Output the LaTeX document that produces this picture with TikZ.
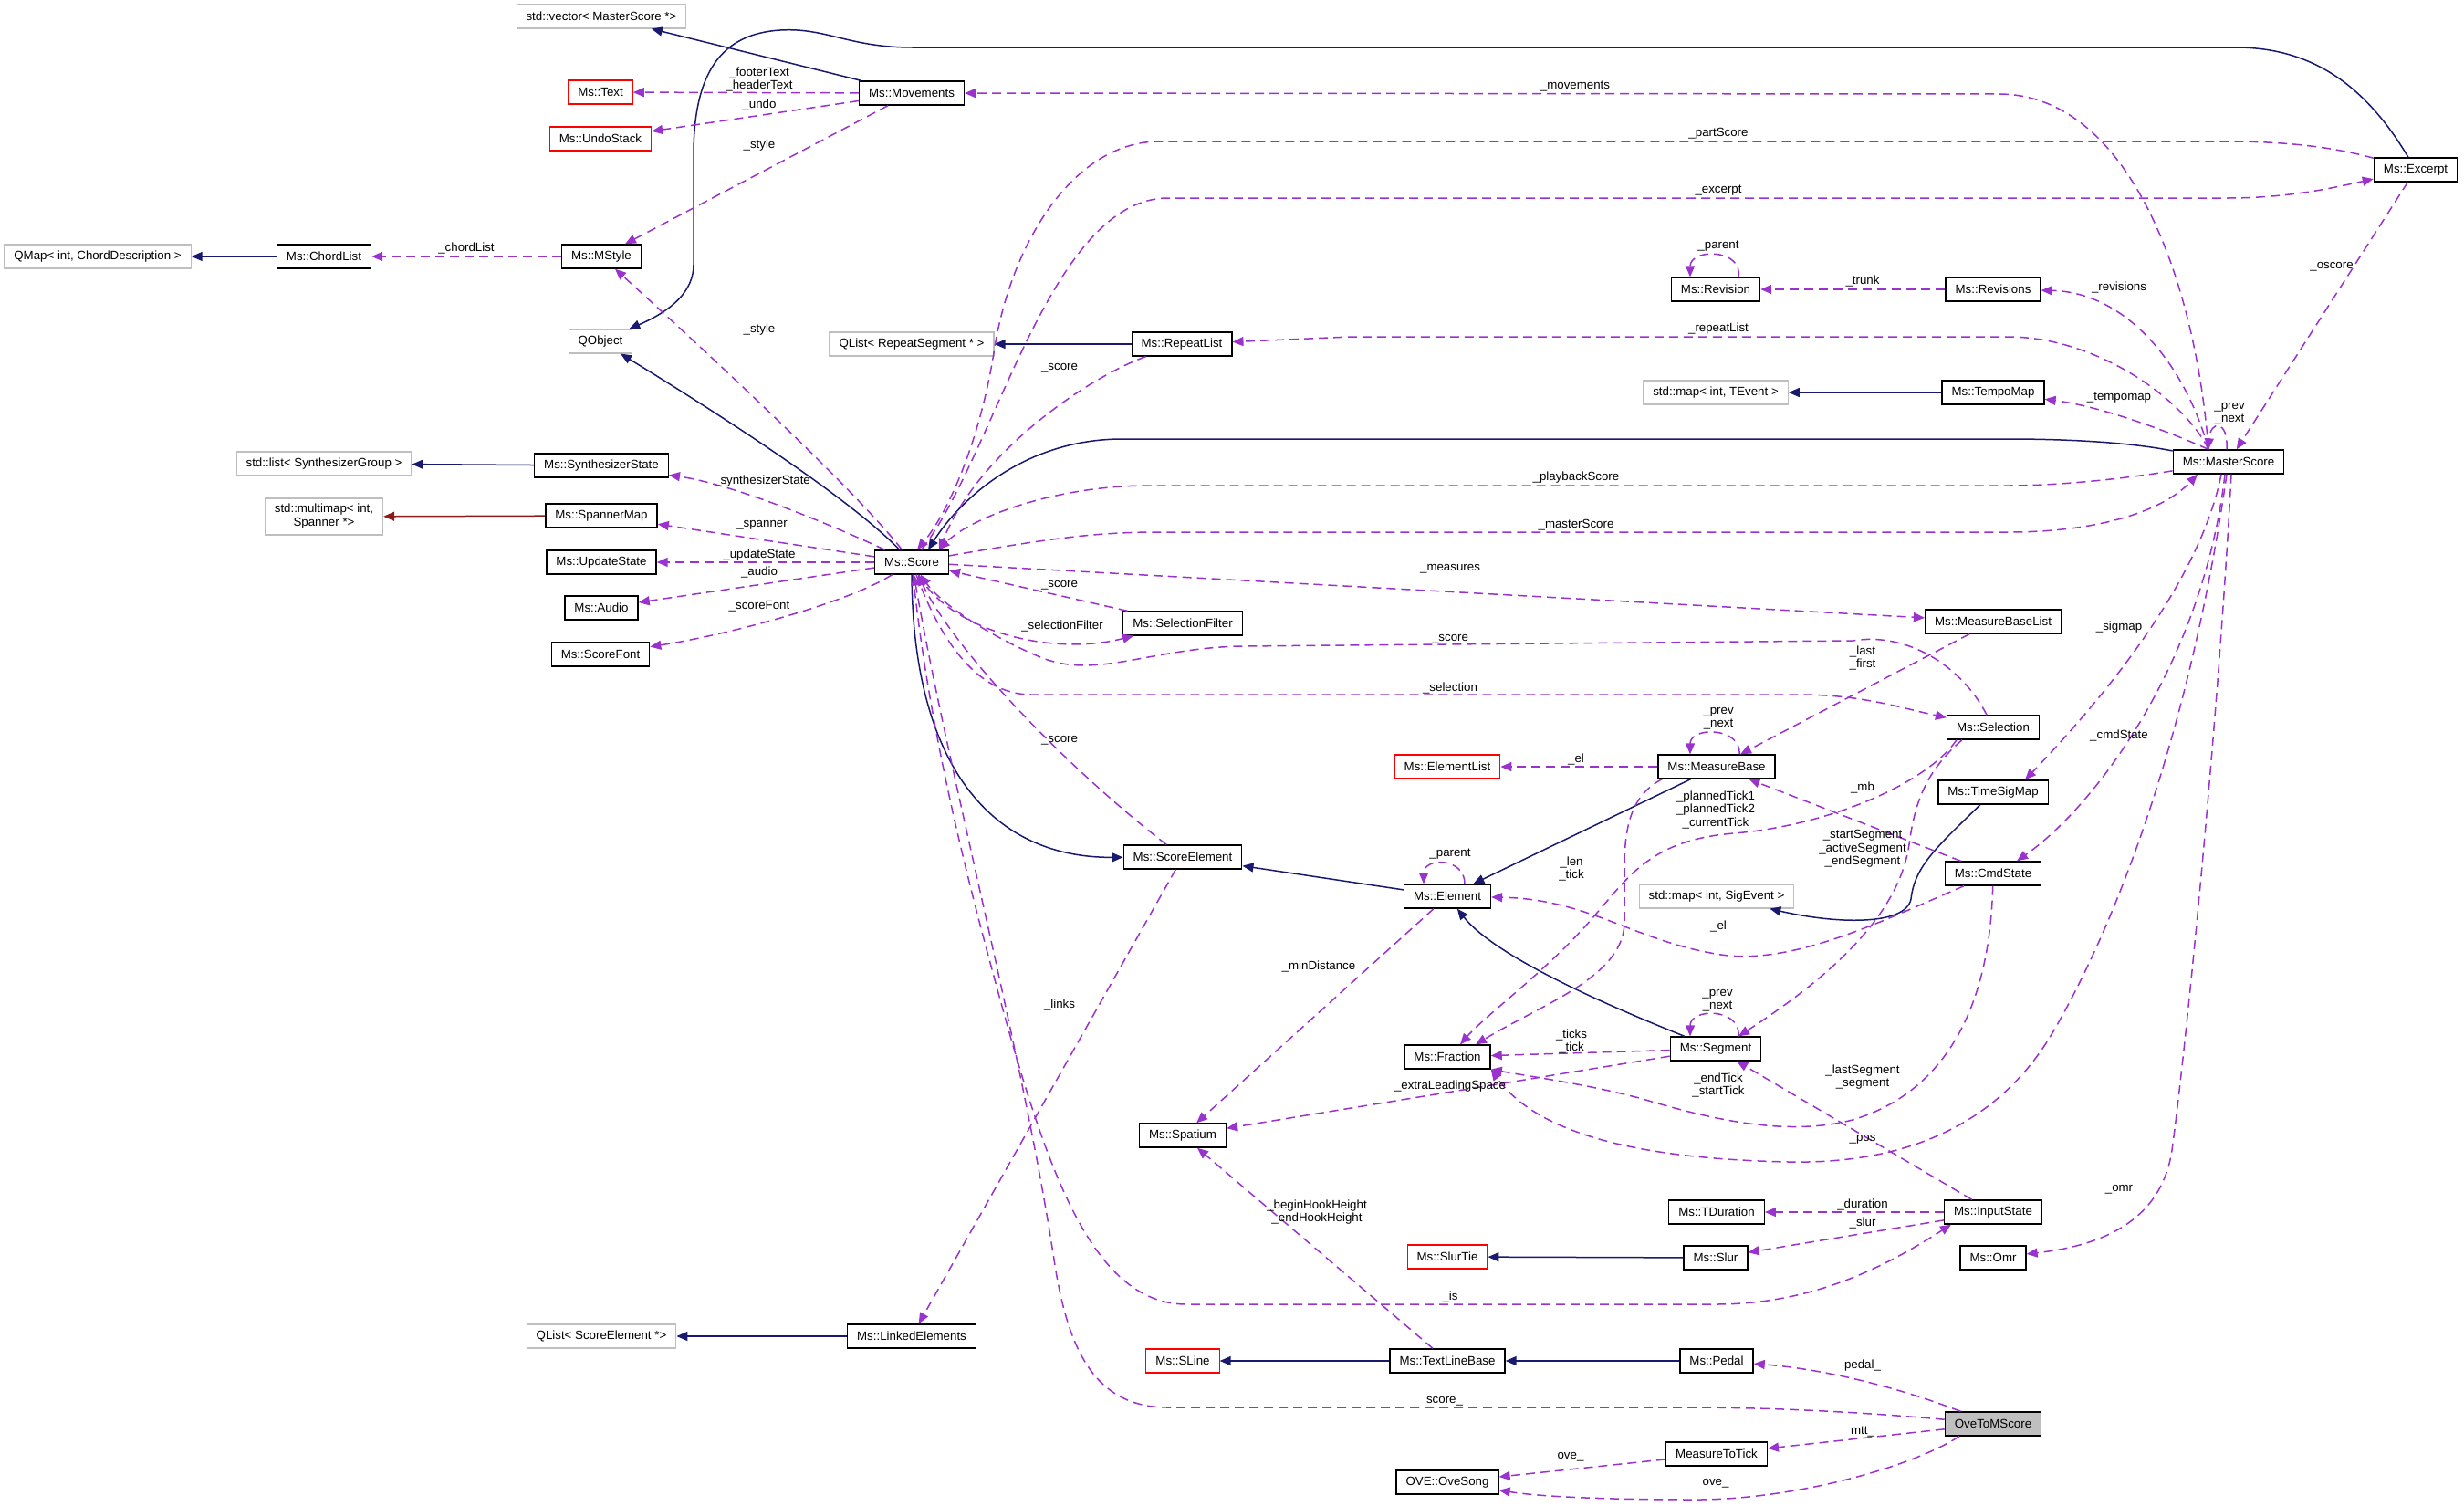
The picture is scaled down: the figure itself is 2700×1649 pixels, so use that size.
\documentclass[tikz,border=0pt]{standalone}
\usepackage{fontspec}
\setmainfont{Liberation Sans}
\usetikzlibrary{arrows.meta}
\definecolor{navy}{RGB}{25,25,112}
\definecolor{purp}{RGB}{154,50,205}
\definecolor{dred}{RGB}{139,26,26}
\definecolor{gbord}{RGB}{191,191,191}
\newcommand\dfont{\fontsize{13.3pt}{14.5pt}\selectfont}
\tikzset{
 cls/.style={draw=black, line width=1.3pt, fill=white, inner xsep=10.5pt, inner ysep=2pt, minimum height=26pt, font=\dfont},
 extc/.style={cls, draw=gbord, line width=1.1pt},
 redc/.style={cls, draw=red, line width=1.1pt},
 inh/.style={draw=navy, line width=1.5pt, -{Triangle[length=12pt,width=10pt]}},
 inhred/.style={inh, draw=dred},
 usage/.style={draw=purp, line width=1.5pt, dash pattern=on 10pt off 6pt, -{Triangle[length=12pt,width=10pt]}},
 lbl/.style={font=\dfont, align=center, inner sep=0pt},
}
\begin{document}
\begin{tikzpicture}[x=1pt,y=-1pt]
\fill[white] (0,0) rectangle (2700,1649);
\useasboundingbox (0,0) rectangle (2700,1649);
% nodes
\node[extc] (vec) at (659,18) {std::vector< MasterScore *>};
\node[redc] (text) at (658,101) {Ms::Text};
\node[redc] (undo) at (658,152) {Ms::UndoStack};
\node[cls] (mstyle) at (659,281) {Ms::MStyle};
\node[cls] (chord) at (355,281) {Ms::ChordList};
\node[extc] (qmap) at (107,281) {QMap< int, ChordDescription >};
\node[extc] (qobj) at (658,374) {QObject};
\node[extc] (slist) at (355,508) {std::list< SynthesizerGroup >};
\node[cls] (synth) at (659,510) {Ms::SynthesizerState};
\node[extc, align=center, font=\fontsize{13.3pt}{15pt}\selectfont, minimum height=40pt] (mmap) at (355,566) {std::multimap< int,\\Spanner *>};
\node[cls] (spanmap) at (659,565) {Ms::SpannerMap};
\node[cls] (upd) at (659,616) {Ms::UpdateState};
\node[cls] (audio) at (659,666) {Ms::Audio};
\node[cls] (sfont) at (658,717) {Ms::ScoreFont};
\node[cls] (mov) at (999,102) {Ms::Movements};
\node[extc] (qlrs) at (999,377) {QList< RepeatSegment * >};
\node[cls] (rl) at (1295,377) {Ms::RepeatList};
\node[cls] (exc) at (2647,186) {Ms::Excerpt};
\node[cls] (rev) at (1880,317) {Ms::Revision};
\node[cls] (revs) at (2184,317) {Ms::Revisions};
\node[extc] (tmap) at (1880,430) {std::map< int, TEvent >};
\node[cls] (tempo) at (2184,430) {Ms::TempoMap};
\node[cls] (ms) at (2442,506) {Ms::MasterScore};
\node[cls] (score) at (999,616) {Ms::Score};
\node[cls] (sf) at (1296,683) {Ms::SelectionFilter};
\node[redc] (elist) at (1586,840) {Ms::ElementList};
\node[cls] (se) at (1296,939) {Ms::ScoreElement};
\node[cls] (elem) at (1586,982) {Ms::Element};
\node[cls] (mbl) at (2184,681) {Ms::MeasureBaseList};
\node[cls] (sel) at (2184,797) {Ms::Selection};
\node[cls] (mb) at (1881,840) {Ms::MeasureBase};
\node[cls] (tsm) at (2184,868) {Ms::TimeSigMap};
\node[extc] (smap) at (1881,982) {std::map< int, SigEvent >};
\node[cls] (cmd) at (2184,957) {Ms::CmdState};
\node[cls] (frac) at (1586,1158) {Ms::Fraction};
\node[cls] (spat) at (1296,1244) {Ms::Spatium};
\node[redc] (slurtie) at (1586,1377) {Ms::SlurTie};
\node[cls] (le) at (999,1464) {Ms::LinkedElements};
\node[redc] (sline) at (1296,1491) {Ms::SLine};
\node[cls] (tlb) at (1586,1491) {Ms::TextLineBase};
\node[cls] (oves) at (1586,1624) {OVE::OveSong};
\node[extc] (qlse) at (659,1464) {QList< ScoreElement *>};
\node[cls] (seg) at (1880,1149) {Ms::Segment};
\node[cls] (tdur) at (1881,1328) {Ms::TDuration};
\node[cls] (is) at (2184,1328) {Ms::InputState};
\node[cls] (slur) at (1880,1378) {Ms::Slur};
\node[cls] (omr) at (2184,1378) {Ms::Omr};
\node[cls] (pedal) at (1881,1491) {Ms::Pedal};
\node[cls, fill=gbord] (o2m) at (2184,1560) {OveToMScore};
\node[cls] (mtt) at (1881,1593) {MeasureToTick};
% inheritance
\draw[inh] (mov) -- (vec);
\draw[inh] (exc) .. controls (2590,90) and (2530,52) .. (2450,52) -- (1000,52) .. controls (930,52) and (905,30) .. (855,33) .. controls (790,37) and (760,80) .. (760,170) -- (760,290) .. controls (760,325) and (725,345) .. (qobj);
\draw[inh] (score) .. controls (930,545) and (790,455) .. (qobj);
\draw[inh] (ms) .. controls (2330,484) and (2260,481) .. (2200,481) -- (1230,481) .. controls (1120,481) and (1050,550) .. ([xshift=18pt]score.north);
\draw[inh] (synth) -- (slist);
\draw[inhred] (spanmap) -- (mmap);
\draw[inh] (chord) -- (qmap);
\draw[inh] (rl) -- (qlrs);
\draw[inh] (tempo) -- (tmap);
\draw[inh] (elem) -- (se);
\draw[inh] (score) .. controls (1000,830) and (1080,940) .. (se);
\draw[inh] (mb) -- (elem);
\draw[inh] (seg) .. controls (1770,1105) and (1640,1050) .. (elem);
\draw[inh] (tsm) .. controls (2120,930) and (2098,950) .. (2094,985) .. controls (2088,1015) and (2010,1012) .. (smap);
\draw[inh] (le) -- (qlse);
\draw[inh] (tlb) -- (sline);
\draw[inh] (pedal) -- (tlb);
\draw[inh] (slur) -- (slurtie);
% usage
\draw[usage] (mov) -- (text);
\draw[usage] (mov) -- (undo);
\draw[usage] (mov) -- (mstyle);
\draw[usage] (mstyle) -- (chord);
\draw[usage] (score) .. controls (940,540) and (790,400) .. (mstyle);
\draw[usage] (score) .. controls (900,570) and (800,530) .. (synth);
\draw[usage] (score) -- (spanmap);
\draw[usage] (score) -- (upd);
\draw[usage] (score) -- (audio);
\draw[usage] (score) .. controls (930,660) and (800,695) .. (sfont);
\draw[usage] ([xshift=-22pt]ms.north) .. controls (2405,300) and (2330,103) .. (2190,103) -- (mov);
\draw[usage] (exc) .. controls (2560,162) and (2510,155) .. (2440,155) -- (1270,155) .. controls (1180,155) and (1110,260) .. (1090,380) .. controls (1075,480) and (1040,560) .. ([xshift=6pt]score.north);
\draw[usage] (score) .. controls (1090,500) and (1150,217) .. (1280,217) -- (2440,217) .. controls (2510,217) and (2560,205) .. (exc);
\draw[usage] (exc) -- (ms);
\draw[usage] ([xshift=25pt]rev.north) .. controls (1910,272) and (1852,272) .. ([xshift=-28pt]rev.north);
\draw[usage] (revs) -- (rev);
\draw[usage] ([xshift=-22pt]ms.north) .. controls (2395,400) and (2330,320) .. (revs);
\draw[usage] ([xshift=-22pt]ms.north) .. controls (2395,440) and (2300,369) .. (2200,369) -- (1480,369) -- (rl);
\draw[usage] (rl) .. controls (1200,410) and (1075,490) .. ([xshift=30pt]score.north);
\draw[usage] ([xshift=-22pt]ms.north) .. controls (2370,470) and (2300,445) .. (tempo);
\draw[usage] ([xshift=-2pt]ms.north) .. controls (2442,460) and (2422,460) .. ([xshift=-22pt]ms.north);
\draw[usage] (ms) .. controls (2330,524) and (2260,532) .. (2200,532) -- (1260,532) .. controls (1150,532) and (1060,570) .. ([xshift=30pt]score.north);
\draw[usage] (score) .. controls (1150,590) and (1200,583) .. (1270,583) -- (2200,583) .. controls (2300,583) and (2370,560) .. ([xshift=-34pt]ms.south);
\draw[usage] (score) -- (mbl);
\draw[usage] (sf) -- (score);
\draw[usage] (score) .. controls (1040,690) and (1150,720) .. (sf);
\draw[usage] (sel) .. controls (2150,730) and (2090,692) .. (2030,702) -- (1360,708) .. controls (1260,710) and (1200,745) .. (1140,720) .. controls (1080,695) and (1030,660) .. (score);
\draw[usage] (score) .. controls (1030,700) and (1070,761) .. (1130,761) -- (1970,761) .. controls (2040,761) and (2080,775) .. (sel);
\draw[usage] (se) .. controls (1180,850) and (1050,720) .. (score);
\draw[usage] (score) .. controls (1020,820) and (1070,1000) .. (1100,1110) .. controls (1150,1290) and (1200,1429) .. (1300,1429) -- (1880,1429) .. controls (1990,1429) and (2070,1385) .. ([xshift=8pt]is.south west);
\draw[usage] (o2m) .. controls (2050,1548) and (1950,1542) .. (1850,1542) -- (1280,1542) .. controls (1200,1542) and (1170,1480) .. (1155,1380) .. controls (1120,1150) and (1040,850) .. (score);
\draw[usage] (se) -- (le);
\draw[usage] (mb) -- (elist);
\draw[usage] ([xshift=25pt]mb.north) .. controls (1908,796) and (1852,796) .. ([xshift=-29pt]mb.north);
\draw[usage] (mbl) -- (mb);
\draw[usage] (cmd) -- (mb);
\draw[usage] ([xshift=-8pt]ms.south) .. controls (2410,640) and (2300,770) .. ([xshift=35pt]tsm.north);
\draw[usage] ([xshift=-4pt]ms.south) .. controls (2415,720) and (2300,880) .. ([xshift=26pt]cmd.north);
\draw[usage] ([xshift=19pt]elem.north) .. controls (1605,939) and (1560,939) .. ([xshift=-26pt]elem.north);
\draw[usage] (cmd) .. controls (2060,1010) and (1960,1060) .. (1880,1045) .. controls (1790,1030) and (1740,985) .. (elem);
\draw[usage] ([xshift=5pt]mb.south west) .. controls (1790,870) and (1780,900) .. (1780,950) -- (1780,1010) .. controls (1780,1070) and (1690,1100) .. ([xshift=31pt]frac.north);
\draw[usage] ([xshift=-40pt]sel.south) .. controls (2110,860) and (2000,905) .. (1900,913) .. controls (1810,920) and (1785,960) .. (1750,1000) .. controls (1700,1060) and (1630,1110) .. ([xshift=14pt]frac.north);
\draw[usage] ([xshift=-34pt]sel.south) .. controls (2110,845) and (2098,880) .. (2092,925) .. controls (2080,1010) and (1990,1080) .. ([xshift=25pt]seg.north);
\draw[usage] ([xshift=25pt]seg.north) .. controls (1908,1104) and (1852,1104) .. ([xshift=-28pt]seg.north);
\draw[usage] (seg) -- (frac);
\draw[usage] (seg) -- (spat);
\draw[usage] (cmd) .. controls (2180,1120) and (2120,1200) .. (2030,1227) .. controls (1960,1245) and (1880,1228) .. (1800,1204) .. controls (1740,1188) and (1680,1180) .. (frac.south east);
\draw[usage] ([xshift=-2pt]ms.south) .. controls (2400,800) and (2320,1010) .. (2250,1130) .. controls (2180,1250) and (2060,1275) .. (1960,1273) .. controls (1820,1270) and (1690,1250) .. (frac.south east);
\draw[usage] ([xshift=3pt]ms.south) .. controls (2430,800) and (2395,1150) .. (2380,1260) .. controls (2368,1340) and (2300,1365) .. (omr);
\draw[usage] (elem) -- (spat);
\draw[usage] (tlb) -- (spat);
\draw[usage] (is) -- (seg);
\draw[usage] (is) -- (tdur);
\draw[usage] (is) -- (slur);
\draw[usage] (o2m) .. controls (2080,1520) and (2000,1500) .. (pedal);
\draw[usage] (o2m) -- (mtt);
\draw[usage] (mtt) -- (oves);
\draw[usage] ([xshift=-37pt]o2m.south) .. controls (2090,1610) and (1960,1643) .. (1860,1643) .. controls (1760,1643) and (1690,1640) .. (oves);
% labels
\node[lbl] (l1) at (832,87) {\_footerText\\\_headerText};
\node[lbl] (l2) at (832,115) {\_undo};
\node[lbl] (l3) at (832,159) {\_style};
\node[lbl] (l4) at (511,272) {\_chordList};
\node[lbl] (l5) at (832,361) {\_style};
\node[lbl] (l6) at (835,527) {\_synthesizerState};
\node[lbl] (l7) at (835,575) {\_spanner};
\node[lbl] (l8) at (832,608) {\_updateState};
\node[lbl] (l9) at (832,627) {\_audio};
\node[lbl] (l10) at (832,664) {\_scoreFont};
\node[lbl] (l11) at (1726,95) {\_movements};
\node[lbl] (l12) at (1883,146) {\_partScore};
\node[lbl] (l13) at (1883,209) {\_excerpt};
\node[lbl] (l14) at (2555,292) {\_oscore};
\node[lbl] (l15) at (1883,270) {\_parent};
\node[lbl] (l16) at (2041,308) {\_trunk};
\node[lbl] (l17) at (2322,315) {\_revisions};
\node[lbl] (l18) at (1883,360) {\_repeatList};
\node[lbl] (l19) at (1161,403) {\_score};
\node[lbl] (l20) at (2322,436) {\_tempomap};
\node[lbl] (l21) at (2443,453) {\_prev\\\_next};
\node[lbl] (l22) at (1727,523) {\_playbackScore};
\node[lbl] (l23) at (1727,575) {\_masterScore};
\node[lbl] (l24) at (1589,623) {\_measures};
\node[lbl] (l25) at (1161,641) {\_score};
\node[lbl] (l26) at (1164,686) {\_selectionFilter};
\node[lbl] (l27) at (1589,700) {\_score};
\node[lbl] (l28) at (1589,754) {\_selection};
\node[lbl] (l29) at (1161,811) {\_score};
\node[lbl] (l30) at (1727,832) {\_el};
\node[lbl] (l31) at (1883,787) {\_prev\\\_next};
\node[lbl] (l32) at (2041,721) {\_last\\\_first};
\node[lbl] (l33) at (2041,863) {\_mb};
\node[lbl] (l34) at (2322,687) {\_sigmap};
\node[lbl] (l35) at (2322,806) {\_cmdState};
\node[lbl] (l36) at (1589,936) {\_parent};
\node[lbl] (l37) at (1722,952) {\_len\\\_tick};
\node[lbl] (l38) at (1880,887) {\_plannedTick1\\\_plannedTick2\\\_currentTick};
\node[lbl] (l39) at (2041,930) {\_startSegment\\\_activeSegment\\\_endSegment};
\node[lbl] (l40) at (1883,1015) {\_el};
\node[lbl] (l41) at (1445,1059) {\_minDistance};
\node[lbl] (l42) at (1161,1101) {\_links};
\node[lbl] (l43) at (1882,1096) {\_prev\\\_next};
\node[lbl] (l44) at (1722,1141) {\_ticks\\\_tick};
\node[lbl] (l45) at (1589,1190) {\_extraLeadingSpace};
\node[lbl] (l46) at (1883,1189) {\_endTick\\\_startTick};
\node[lbl] (l47) at (2041,1180) {\_lastSegment\\\_segment};
\node[lbl] (l48) at (2041,1248) {\_pos};
\node[lbl] (l49) at (2322,1303) {\_omr};
\node[lbl] (l50) at (1443,1328) {\_beginHookHeight\\\_endHookHeight};
\node[lbl] (l51) at (2041,1320) {\_duration};
\node[lbl] (l52) at (2041,1340) {\_slur};
\node[lbl] (l53) at (1589,1421) {\_is};
\node[lbl] (l54) at (2041,1496) {pedal\_};
\node[lbl] (l55) at (1583,1535) {score\_};
\node[lbl] (l56) at (2041,1568) {mtt\_};
\node[lbl] (l57) at (1721,1596) {ove\_};
\node[lbl] (l58) at (1880,1625) {ove\_};
\end{tikzpicture}
\end{document}
